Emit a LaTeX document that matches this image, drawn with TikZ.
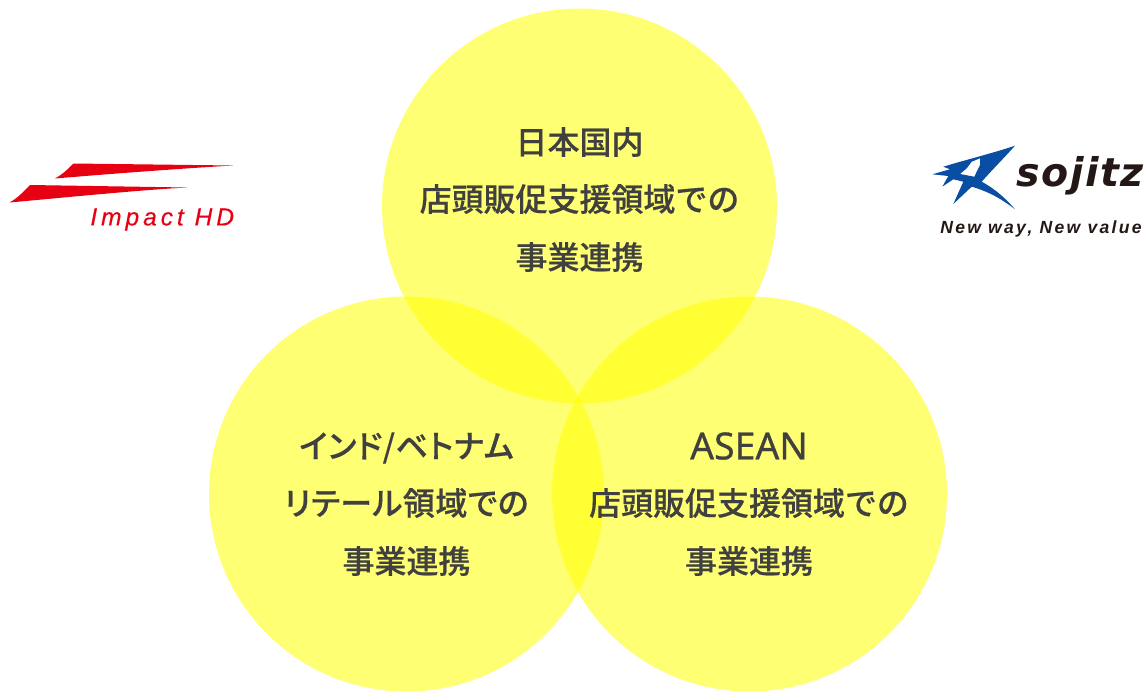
\documentclass[tikz,border=0pt]{standalone}
\usepackage{fontspec}
\setmainfont[FakeBold=0.35]{Noto Sans CJK JP Medium}
\newfontfamily\kanafont[RawFeature=+palt,LetterSpace=1.5,FakeBold=0.35]{Noto Sans CJK JP Medium}
\newfontfamily\latinfont[FakeBold=0.7]{Noto Sans}
\newfontfamily\logofont[LetterSpace=16,FakeBold=0.3]{Liberation Sans}
\newfontfamily\sojitzfont[LetterSpace=4]{DejaVu Sans}
\newfontfamily\sloganfont[LetterSpace=13]{Liberation Sans}
\definecolor{bubbleyellow}{RGB}{255,255,0}
\definecolor{textgray}{HTML}{404040}
\definecolor{impactred}{HTML}{E60012}
\definecolor{sojitzblue}{HTML}{0A4EA3}
\definecolor{sojitzblack}{HTML}{231815}
\tikzset{
  bubble/.style={circle,fill=bubbleyellow,fill opacity=0.55,minimum size=395*0.02cm,inner sep=0pt},
  bubbletext/.style={text=textgray,inner sep=0pt,font=\fontsize{18.2}{18.2}\selectfont},
  logotext/.style={text=sojitzblack,inner sep=0pt,anchor=west},
}
\begin{document}
\begin{tikzpicture}[x=0.02cm,y=-0.02cm]
        \useasboundingbox (0,0) rectangle (1146,690);
        % circles
        \node[bubble] (topcircle) at (579.5,206) {};
        \node[bubble] (leftcircle) at (406.5,494) {};
        \node[bubble] (rightcircle) at (749.5,494) {};
        % labels
        \node[bubbletext] (topa) at (579.5,142) {日本国内};
        \node[bubbletext] (topb) at (579.5,199) {店頭販促支援領域での};
        \node[bubbletext] (topc) at (579.5,257) {事業連携};
        \node[bubbletext] (lefta) at (406.5,448) {\kanafont インド/ベトナム};
        \node[bubbletext] (leftb) at (406.5,503) {\kanafont リテール領域での};
        \node[bubbletext] (leftc) at (406.5,561) {事業連携};
        \node[bubbletext,font=\latinfont\fontsize{21.3}{21.3}\selectfont] (righta) at (749,446) {ASEAN};
        \node[bubbletext] (rightb) at (749,503) {店頭販促支援領域での};
        \node[bubbletext] (rightc) at (749,561) {事業連携};
        % left logo
        \fill[impactred] (55,178.5) .. controls (63,174) and (68,169) .. (73.5,163.5)
          -- (233,165.5) .. controls (190,168) and (120,173) .. cycle;
        \fill[impactred] (9.5,202.5) .. controls (18,198) and (24,191) .. (30,185)
          -- (187,187.5) .. controls (140,190) and (70,197) .. cycle;
        \node[logotext,text=impactred,font=\logofont\fontsize{14}{14}\selectfont\itshape] (impact) at (90,219.5) {Impact HD};
        % right logo
        \fill[sojitzblue,even odd rule] (1015,145.7) .. controls (990,154) and (965,160) .. (943.3,166.7)
          -- (950,169.3) -- (932.3,174.3) -- (948.3,176) -- (942.3,186.7) -- (953.3,179.3) -- (963.3,181.7)
          -- (953.3,204) -- (971.7,186.7) .. controls (990,192) and (1003,200) .. (1015,209.3)
          .. controls (1008,201) and (997,190) .. (981.7,181.7) .. controls (992,170) and (1004,158) .. cycle
          (971.7,161.7) -- (980,158.3) -- (980,165) -- (974.3,176.7) -- (960,174) -- (966.7,168.3) -- cycle;
        \node[logotext,font=\sojitzfont\fontsize{22.5}{22.5}\selectfont\bfseries\itshape] (sojitz) at (1016,176) {sojitz};
        \node[logotext,font=\sloganfont\fontsize{10}{10}\selectfont\bfseries\itshape] (slogan) at (940,229) {New way, New value};
      \end{tikzpicture}
\end{document}
